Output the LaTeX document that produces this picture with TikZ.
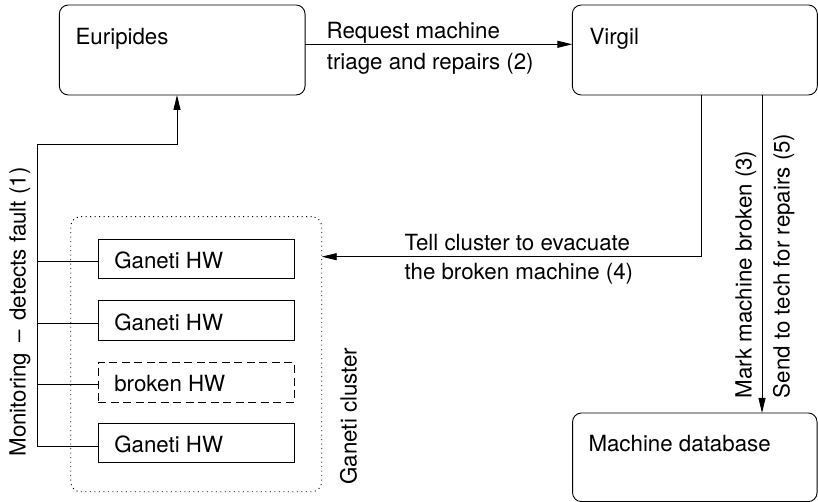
\documentclass[tikz,border=0pt]{standalone}
\usepackage{fontspec}
\setmainfont{TeX Gyre Heros}
\usetikzlibrary{arrows.meta}
\begin{document}
\begin{tikzpicture}[x=1pt,y=-1pt,
  box/.style={draw, rounded corners=9pt, line width=0.9pt, inner sep=0pt, outer sep=0pt},
  hwbox/.style={draw, line width=0.9pt, inner sep=0pt, outer sep=0pt, minimum width=196pt, minimum height=39.7pt},
  clusterbox/.style={draw, rounded corners=10pt, line width=0.9pt, dash pattern=on 1pt off 3.5pt, inner sep=0pt, outer sep=0pt},
  txt/.style={font=\fontsize{22.3}{26}\selectfont, inner sep=0pt, outer sep=0pt, anchor=base west},
  arr/.style={line width=0.9pt, -{Triangle[length=15pt,width=7pt]}},
  ln/.style={line width=0.9pt}]
\useasboundingbox (0,0) rectangle (818,502);

% main boxes
\node[box, minimum width=245.7pt, minimum height=90pt] (eur) at (182.2,50) {};
\node[box, minimum width=245pt, minimum height=90pt] (vir) at (694.8,50) {};
\node[box, minimum width=244.5pt, minimum height=88.7pt] (mdb) at (694.8,457.3) {};
\node[txt] (teur) at (75.6,45) {Euripides};
\node[txt] (tvir) at (589.5,45) {Virgil};
\node[txt] (tmdb) at (588.5,451.7) {Machine database};

% cluster
\node[clusterbox, minimum width=251pt, minimum height=275pt] (clu) at (196.2,354.2) {};
\node[hwbox] (hw1) at (196,258.9) {};
\node[hwbox] (hw2) at (196,320.5) {};
\node[hwbox, dash pattern=on 8pt off 4.5pt] (hw3) at (196,382.2) {};
\node[hwbox] (hw4) at (196,442.9) {};
\node[txt] (thw1) at (114.3,268.3) {Ganeti HW};
\node[txt] (thw2) at (114.3,330.0) {Ganeti HW};
\node[txt] (thw3) at (114.3,391.7) {broken HW};
\node[txt] (thw4) at (114.3,452.3) {Ganeti HW};
\node[txt, rotate=90] (tclu) at (356.5,484.5) {Ganeti cluster};

% monitoring bus
\coordinate (busbot) at (37,446);
\coordinate (bustop) at (37,144);
\coordinate (bend) at (177,144);
\draw[arr] (busbot) -- (bustop) -- (bend) -- (bend |- eur.south);
\coordinate (b1) at (37,261.7);
\coordinate (b2) at (37,323);
\coordinate (b3) at (37,384);
\draw[ln] (b1) -- (b1 -| hw1.west);
\draw[ln] (b2) -- (b2 -| hw2.west);
\draw[ln] (b3) -- (b3 -| hw3.west);
\draw[ln] (busbot) -- (busbot -| hw4.west);
\node[txt, rotate=90] (tmon) at (25.7,456.5) {Monitoring \,–\, detects fault (1)};

% request arrow
\coordinate (r) at (0,44.3);
\draw[arr] (eur.east |- r) -- (vir.west |- r);
\node[txt] (treq1) at (326.6,38.3) {Request machine};
\node[txt] (treq2) at (326.8,69.3) {triage and repairs (2)};

% evacuate arrow
\coordinate (t1) at (701.7,0);
\coordinate (t2) at (0,256.7);
\draw[arr] (vir.south -| t1) |- (clu.east |- t2);
\node[txt] (tev1) at (404.5,251) {Tell cluster to evacuate};
\node[txt] (tev2) at (404.5,279.5) {the broken machine (4)};

% database arrow
\coordinate (s) at (762,0);
\draw[arr] (vir.south -| s) -- (mdb.north -| s);
\node[txt, rotate=90] (tmark) at (751.5,398) {Mark machine broken (3)};
\node[txt, rotate=90] (tsend) at (789.5,398) {Send to tech for repairs (5)};
\end{tikzpicture}
\end{document}
